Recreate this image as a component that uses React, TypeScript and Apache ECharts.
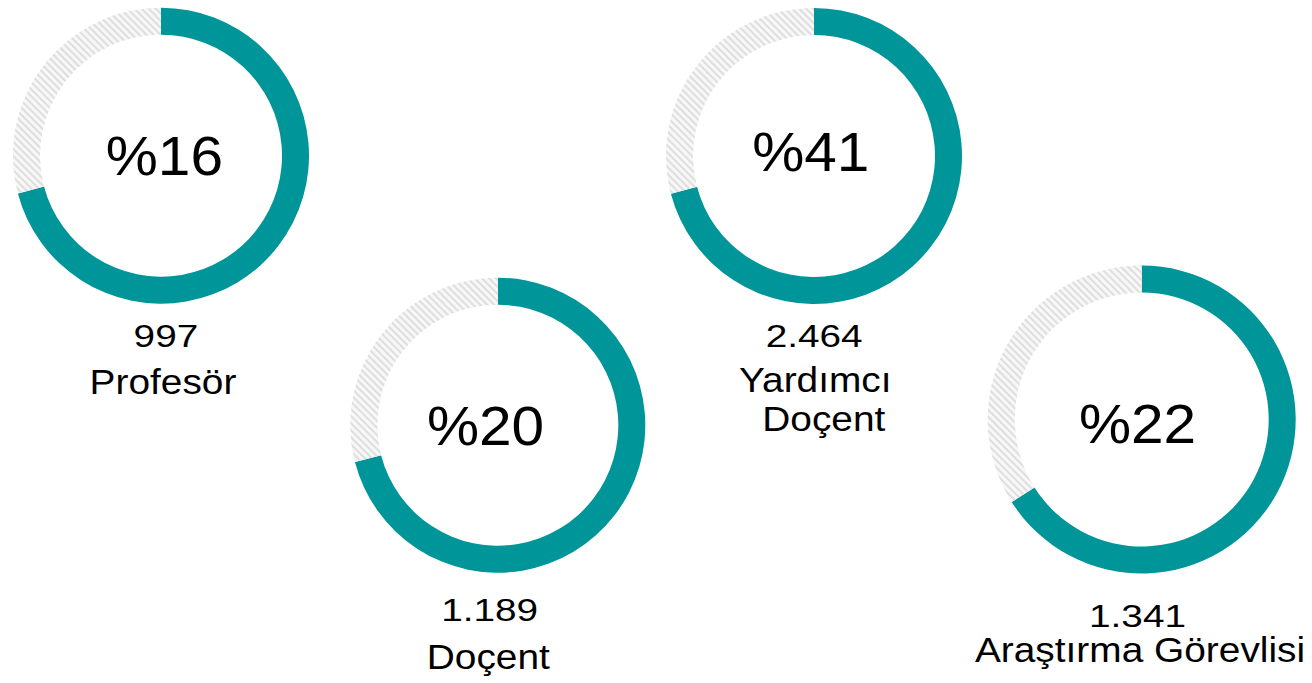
import React, { useEffect, useRef } from "react";
import * as echarts from "echarts";

// ---- data ----
const categories: string[][] = [["Profesör"], ["Doçent"], ["Yardımcı", "Doçent"], ["Araştırma Görevlisi"]];
const counts: string[] = ["997", "1.189", "2.464", "1.341"];
const percents: number[] = [16, 20, 41, 22];
// share of the ring drawn in teal (as drawn in the picture), in %
const ringFill: number[] = [70.9, 71.0, 70.9, 66.0];

// ---- layout (positions / sizes) ----
const centers: [number, number][] = [
  [161, 155.7],
  [497.8, 425.2],
  [814, 156],
  [1141.7, 419.5],
];
const radii: [number, number][] = [
  [121, 148],
  [120.5, 147.5],
  [121, 148],
  [127, 154],
];
const pctPos: [number, number][] = [
  [164.4, 156.3],
  [485.5, 426.3],
  [810.8, 152.2],
  [1137.5, 423.7],
];
const countPos: [number, number][] = [
  [165.9, 335.8],
  [489.7, 610],
  [814.2, 336],
  [1137.5, 616.2],
];
const namePos: [number, number][][] = [
  [[163, 382.5]],
  [[488.3, 657.5]],
  [[815.3, 380.5], [823.8, 419]],
  [[1140, 650]],
];

const TEAL = "#009599";
const FONT = "'Liberation Sans', Arial, Helvetica, sans-serif";
const PCT_SIZE = 55;
const PCT_SX = 1.065;
const CNT_SIZE = 31;
const CNT_SX = 1.25;
const NAME_SIZE = 35;
const NAME_SX = 1.11;

function txt(text: string, x: number, y: number, size: number, sx: number) {
  return {
    type: "text",
    x,
    y,
    scaleX: sx,
    silent: true,
    style: {
      text,
      fontSize: size,
      fontFamily: FONT,
      fill: "#000",
      align: "center",
      verticalAlign: "middle",
      textAlign: "center",
      textVerticalAlign: "middle",
    },
  };
}

export default function App() {
  const ref = useRef<HTMLDivElement>(null);
  useEffect(() => {
    if (!ref.current) return;
    const chart = echarts.init(ref.current, undefined, { renderer: "svg" });

    const series = percents.map((p, i) => ({
      type: "pie",
      center: centers[i],
      radius: radii[i],
      startAngle: 90,
      clockwise: true,
      silent: true,
      label: { show: false },
      labelLine: { show: false },
      emphasis: { disabled: true },
      data: [
        { value: ringFill[i], name: "fill", itemStyle: { color: TEAL } },
        {
          value: 100 - ringFill[i],
          name: "rest",
          itemStyle: {
            color: "#f7f7f7",
            decal: {
              symbol: "rect",
              symbolSize: 1,
              color: "#dedede",
              dashArrayX: [1, 0],
              dashArrayY: [2, 3],
              rotation: Math.PI / 4,
            },
          },
        },
      ],
    }));

    const elements: any[] = [];
    percents.forEach((p, i) => {
      elements.push(txt("%" + p, pctPos[i][0], pctPos[i][1], PCT_SIZE, PCT_SX));
      elements.push(txt(counts[i], countPos[i][0], countPos[i][1], CNT_SIZE, CNT_SX));
      categories[i].forEach((line, j) => {
        elements.push(txt(line, namePos[i][j][0], namePos[i][j][1], NAME_SIZE, NAME_SX));
      });
    });

    chart.setOption({
      animation: false,
      backgroundColor: "#fff",
      series,
      graphic: { elements },
    });

    return () => {
      chart.dispose();
    };
  }, []);

  return (
    <div
      ref={ref}
      style={{ position: "absolute", left: 0, top: 0, width: 1312, height: 683, background: "#fff" }}
    />
  );
}
